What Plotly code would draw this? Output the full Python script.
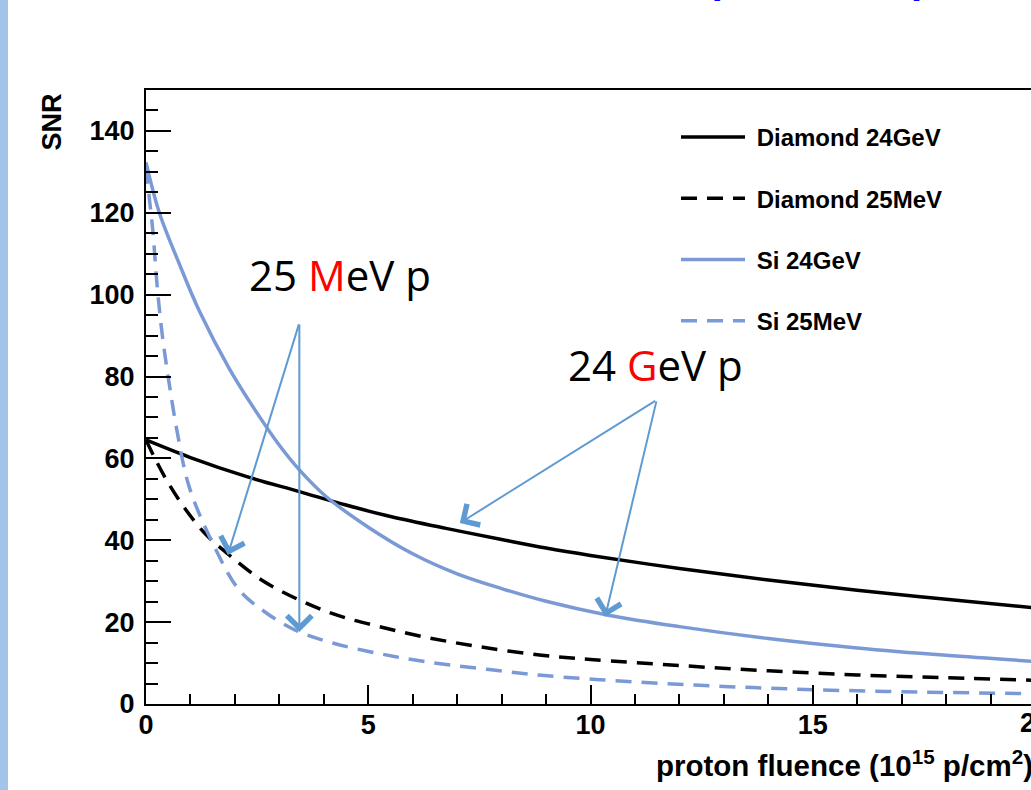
import plotly.graph_objects as go

# ---------------- data ----------------
fluence_d24 = [0, 1, 2.25, 3.45, 4.5, 5.5, 6.75, 8, 9, 10, 12, 14, 16, 18, 20]
snr_d24 = [64.5, 60.2, 55.6, 51.9, 48.6, 45.8, 42.9, 40.2, 38.1, 36.3, 33.1, 30.3, 27.8, 25.6, 23.5]

fluence_d25 = [0, 0.22, 0.5, 0.9, 1.35, 1.87, 2.6, 3.45, 4.3, 5.25, 6.3, 7.5, 8.9, 10, 12, 14, 16, 18, 20]
snr_d25 = [64.5, 59.6, 54.0, 47.4, 41.4, 36.4, 30.3, 25.4, 21.7, 18.9, 16.3, 14.0, 11.9, 10.9, 9.4, 8.1, 7.1, 6.4, 5.8]

fluence_s24 = [0, 0.3, 0.75, 1.2, 1.87, 2.4, 3.0, 3.45, 4.05, 5, 6, 7, 8, 9, 10.4, 12, 14, 16, 18, 20]
snr_s24 = [132.3, 120, 107.5, 96, 82, 72.7, 63.2, 57.2, 50.7, 43.2, 36.7, 31.8, 28.2, 25.1, 21.7, 18.9, 16.0, 13.7, 11.9, 10.4]

fluence_s25 = [0, 0.07, 0.15, 0.26, 0.37, 0.52, 0.71, 0.97, 1.5, 2.1, 2.7, 3.37, 4.2, 5.25, 6.3, 7.5, 8.9, 11, 13, 15, 17.5, 20]
snr_s25 = [131, 124, 116, 101, 89.8, 78.4, 66, 53.1, 39.3, 27.8, 22.3, 18, 14.9, 12.3, 10.3, 8.7, 7.0, 5.4, 4.3, 3.5, 2.9, 2.5]

series_names = ["Diamond 24GeV", "Diamond 25MeV", "Si 24GeV", "Si 25MeV"]
x_ticks = [0, 5, 10, 15]
y_ticks = [0, 20, 40, 60, 80, 100, 120, 140]

# ---------------- styling ----------------
BLACK = "#000000"
SIBLUE = "#7b9ad5"
ARROW = "#5f9bd2"
DASH = "16px,10px"

fig = go.Figure()
specs = [
    (fluence_d24, snr_d24, BLACK, "solid"),
    (fluence_d25, snr_d25, BLACK, DASH),
    (fluence_s24, snr_s24, SIBLUE, "solid"),
    (fluence_s25, snr_s25, SIBLUE, DASH),
]
for i, (xs, ys, col, dash) in enumerate(specs):
    fig.add_trace(go.Scatter(
        x=xs, y=ys, mode="lines", name="&nbsp;" + series_names[i],
        legendgroup=f"g{i}",
        line=dict(color=col, width=3.5, dash=dash, shape="spline", smoothing=1.0),
    ))

W, H = 1031, 790
L, T, B = 146, 90, 86
plot_w = W - L
plot_h = H - T - B
px_per_unit = 44.45
x_max = plot_w / px_per_unit

tick_font = dict(family="Liberation Sans, Arial, sans-serif", size=27, color="black", weight="bold")

fig.update_layout(
    width=W, height=H,
    margin=dict(l=L, r=0, t=T, b=B, pad=0),
    paper_bgcolor="white", plot_bgcolor="white",
    showlegend=True,
    legend=dict(
        x=(676 - L) / plot_w, y=1 - (115 - T) / plot_h,
        xanchor="left", yanchor="top",
        font=dict(family="Liberation Sans, Arial, sans-serif", size=24, color="black", weight="bold"),
        itemwidth=64, tracegroupgap=27, bgcolor="rgba(0,0,0,0)", borderwidth=0,
    ),
    xaxis=dict(
        range=[0, x_max], tickvals=x_ticks, ticktext=[str(v) for v in x_ticks],
        ticks="inside", ticklen=19, tickwidth=2, tickcolor="black",
        minor=dict(dtick=1, ticks="inside", ticklen=10, tickwidth=2, tickcolor="black"),
        showline=True, linecolor="black", linewidth=2, mirror=True,
        showgrid=False, zeroline=False, tickfont=tick_font, ticklabelstandoff=-4,
    ),
    yaxis=dict(
        range=[0, 150], tickvals=y_ticks, ticktext=[str(v) for v in y_ticks],
        ticks="inside", ticklen=25, tickwidth=2, tickcolor="black",
        minor=dict(dtick=5, ticks="inside", ticklen=12, tickwidth=2, tickcolor="black"),
        showline=True, linecolor="black", linewidth=2, mirror=False,
        showgrid=False, zeroline=False, tickfont=tick_font, ticklabelstandoff=4,
    ),
)

# left light-blue slide bar
fig.add_shape(type="rect", xref="paper", yref="paper",
              x0=-L / plot_w, x1=(8 - L) / plot_w, y0=-B / plot_h, y1=1 + T / plot_h,
              fillcolor="#a3c4ea", line=dict(width=0), layer="below")

# position of x = 20 in paper units (just beyond the visible page edge)
x20_paper = 20 * px_per_unit / plot_w

# "20" tick label partly cut by the page edge
fig.add_annotation(x=x20_paper, xref="paper", y=-(723 - (T + plot_h)) / plot_h, yref="paper",
                   xanchor="center", yanchor="middle",
                   text="20", showarrow=False, font=tick_font)

# axis titles (ROOT style, right / top aligned)
fig.add_annotation(x=x20_paper, xref="paper", y=-(763 - (T + plot_h)) / plot_h, yref="paper",
                   xanchor="right", yanchor="middle",
                   text="proton fluence (10<sup>15</sup> p/cm<sup>2</sup>)", showarrow=False,
                   font=dict(family="Liberation Sans, Arial, sans-serif", size=29.5, color="black", weight="bold"))
fig.add_annotation(x=(51 - L) / plot_w, xref="paper", y=1 - (92 - T) / plot_h, yref="paper",
                   xanchor="center", yanchor="top", textangle=-90,
                   text="SNR", showarrow=False,
                   font=dict(family="Liberation Sans, Arial, sans-serif", size=27, color="black", weight="bold"))

# big labels
lab_font = dict(family="Open Sans, sans-serif", size=42, color="black")
fig.add_annotation(x=4.37, y=104.9, xref="x", yref="y", showarrow=False,
                   text="25 <span style='color:#ff0000'>M</span>eV p", font=lab_font)
fig.add_annotation(x=11.47, y=83.0, xref="x", yref="y", showarrow=False,
                   text="24 <span style='color:#ff0000'>G</span>eV p", font=lab_font)

# arrows
arrows = [
    ((3.45, 93.1), (1.84, 36.4)),
    ((3.45, 93.1), (3.45, 17.6)),
    ((11.49, 74.3), (7.06, 44.2)),
    ((11.49, 74.3), (10.33, 21.3)),
]
for (tx, ty), (hx, hy) in arrows:
    fig.add_annotation(x=hx, y=hy, ax=tx, ay=ty, xref="x", yref="y", axref="x", ayref="y",
                       showarrow=True, arrowhead=4, arrowsize=2.4, arrowwidth=2,
                       arrowcolor=ARROW, text="")

# cut-off blue slide title fragments at the very top
frag_font = dict(family="Liberation Sans, Arial, sans-serif", size=40, color="#0000ff", weight="bold")
fig.add_annotation(x=(714 - L) / plot_w, xref="paper", y=1 + (T + 21) / plot_h, yref="paper",
                   yanchor="middle", text="(", showarrow=False, font=frag_font)
fig.add_annotation(x=(937 - L) / plot_w, xref="paper", y=1 + (T + 21) / plot_h, yref="paper",
                   yanchor="middle", text="p", showarrow=False, font=frag_font)

fig.write_html("out.html")
